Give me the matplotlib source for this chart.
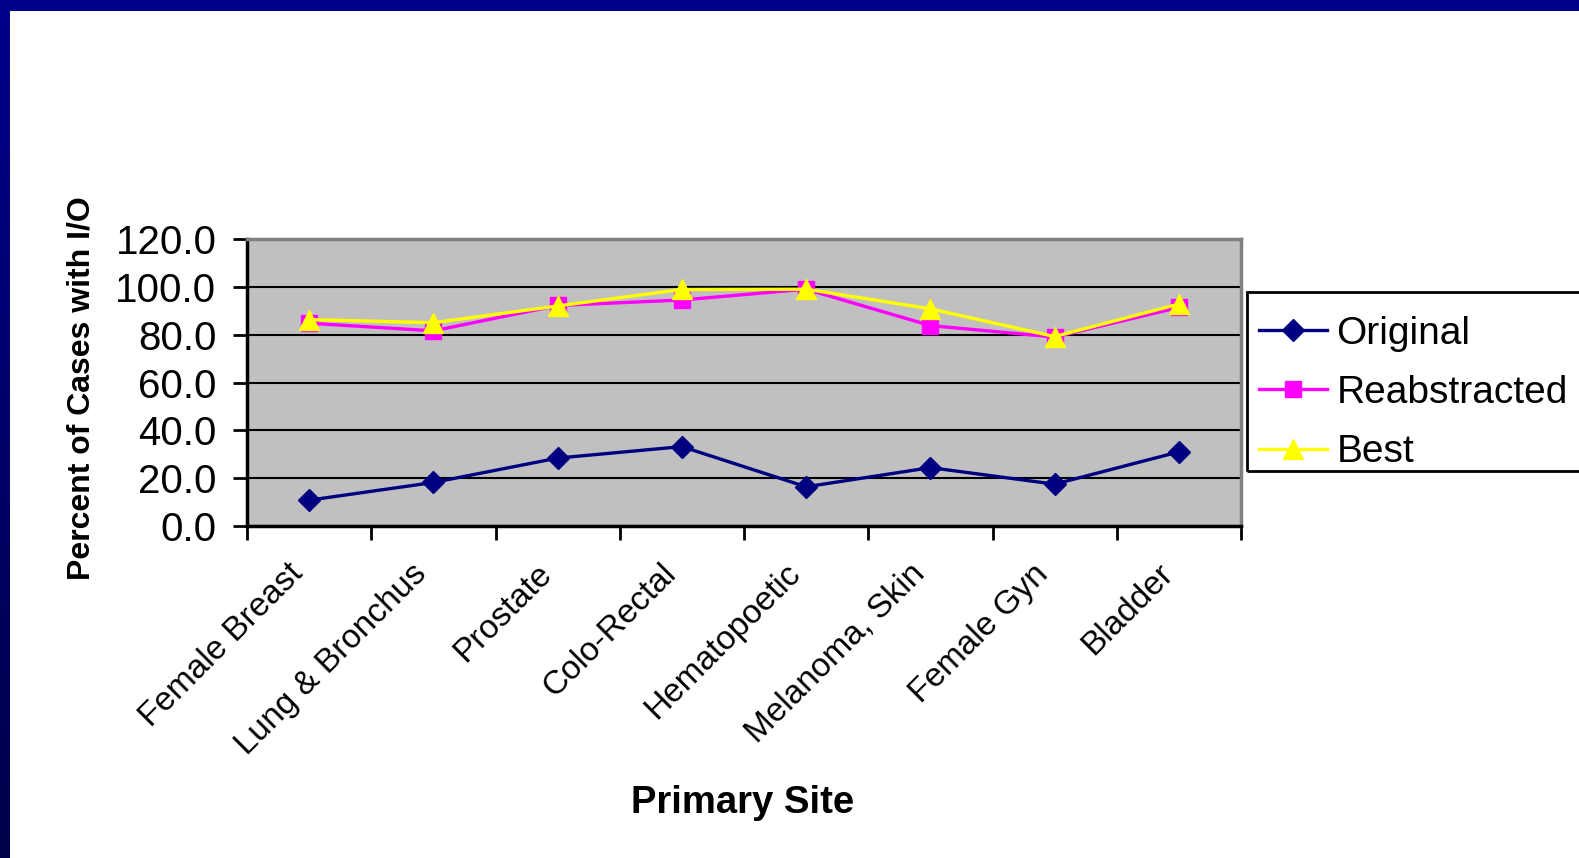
import numpy as np
import matplotlib
matplotlib.use('Agg')
from matplotlib import pyplot as plt

plt.rcParams['font.family'] = ['Liberation Sans', 'DejaVu Sans']

sites = ['Female Breast', 'Lung & Bronchus', 'Prostate', 'Colo-Rectal',
         'Hematopoetic', 'Melanoma, Skin', 'Female Gyn', 'Bladder']
original = [10.8, 18.2, 28.4, 33.2, 16.4, 24.4, 17.5, 31.0]
reabstracted = [84.8, 81.6, 92.2, 94.5, 99.0, 83.8, 79.0, 91.4]
best = [86.3, 85.0, 92.0, 98.9, 99.0, 90.8, 79.2, 92.8]
yticks = [0, 20, 40, 60, 80, 100, 120]

W, H = 1579, 858
fig = plt.figure(figsize=(W / 100, H / 100), dpi=100)
fig.patch.set_facecolor('white')

# slide border: navy band on top, darkening band on the left
top = fig.add_axes([0, 1 - 11 / H, 1, 11 / H])
top.set_axis_off()
top.add_patch(plt.Rectangle((0, 0), 1, 1, color='#00008b', transform=top.transAxes))
side = fig.add_axes([0, 0, 10 / W, 1 - 11 / H])
side.set_axis_off()
grad = np.linspace(0, 1, 256).reshape(-1, 1)
cmap = matplotlib.colors.LinearSegmentedColormap.from_list('edge', ['#00004a', '#00008b'])
side.imshow(grad, aspect='auto', cmap=cmap, origin='lower', extent=[0, 1, 0, 1])

ax = fig.add_axes([247 / W, (H - 526) / H, 994 / W, (526 - 239) / H])
ax.set_facecolor('#c0c0c0')

x = np.arange(len(sites)) + 0.5
ax.plot(x, original, color='#000080', lw=2.4, marker='D', ms=11.5, label='Original', zorder=4)
ax.plot(x, reabstracted, color='#ff00ff', lw=2.4, marker='s', ms=12, label='Reabstracted', zorder=5)
ax.plot(x, best, color='#ffff00', lw=2.4, marker='^', ms=14, label='Best', zorder=6)

ax.set_xlim(0, len(sites))
ax.set_ylim(0, 120)
ax.set_yticks(yticks)
ax.set_yticklabels(['%.1f' % v for v in yticks], fontsize=29)
ax.yaxis.grid(True, color='black', lw=1.5)
ax.set_axisbelow(True)

ax.set_xticks(np.arange(len(sites) + 1))
ax.set_xticklabels([])
ax.set_xticks(x, minor=True)
ax.set_xticklabels(sites, minor=True, fontsize=24, rotation=45,
                   ha='right', va='bottom', rotation_mode='anchor')
ax.tick_params(axis='x', which='minor', length=0, pad=39)
ax.tick_params(axis='both', which='major', length=10, width=2, direction='out')
ax.tick_params(axis='y', pad=12)

for s in ['left', 'bottom']:
    ax.spines[s].set_color('black')
    ax.spines[s].set_linewidth(2.5)
for s in ['top', 'right']:
    ax.spines[s].set_color('#808080')
    ax.spines[s].set_linewidth(2.5)

fig.text(82 / W, 1 - 388 / H, 'Percent of Cases with I/O', rotation=90,
         fontsize=23, fontweight='bold', ha='center', va='center')
fig.text(743 / W, 1 - 803 / H, 'Primary Site', fontsize=27.5,
         fontweight='bold', ha='center', va='center')

# legend entries, with the box drawn separately so it runs off the right edge
leg = fig.legend(loc='upper left', bbox_to_anchor=(1243 / W, 1 - 300 / H),
                 fontsize=28, frameon=False,
                 handlelength=1.75, handletextpad=0.25, labelspacing=0.6,
                 borderpad=0.4, borderaxespad=0)
box = plt.Rectangle((1247 / W, 1 - 471 / H), 400 / W, 179 / H, fill=False,
                    edgecolor='black', lw=2, transform=fig.transFigure)
fig.patches.append(box)

fig.savefig('out.png', dpi=100)
